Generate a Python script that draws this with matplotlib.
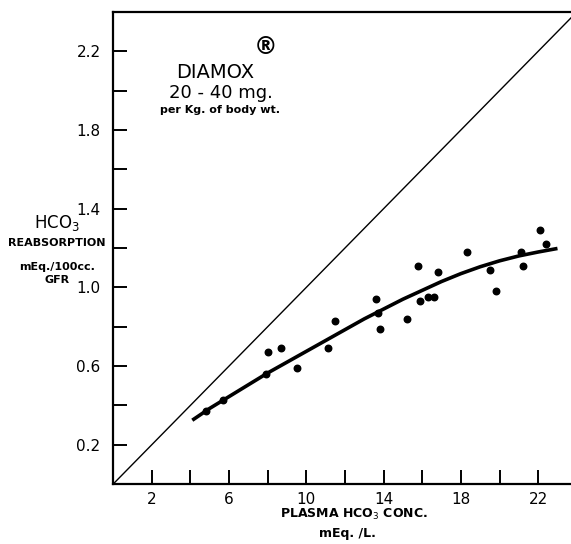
import matplotlib.pyplot as plt

# measured points: plasma HCO3 (mEq/L) vs HCO3 reabsorption (mEq/100cc GFR)
plasma = [4.8, 5.7, 7.9, 8.0, 8.7, 9.5, 11.1, 11.5, 13.6, 13.7, 13.8, 15.2,
          15.8, 15.9, 16.3, 16.6, 16.8, 18.3, 19.5, 19.8, 21.1, 21.2, 22.1, 22.4]
reabs = [0.37, 0.43, 0.56, 0.67, 0.69, 0.59, 0.69, 0.83, 0.94, 0.87, 0.79, 0.84,
         1.11, 0.93, 0.95, 0.95, 1.08, 1.18, 1.09, 0.98, 1.18, 1.11, 1.29, 1.22]

# hand-drawn fitted curve
curve_x = [4.1, 5, 6, 7, 8, 9, 10, 11, 12, 13, 14, 15, 16, 17, 18, 19, 20, 21, 22, 23]
curve_y = [0.325, 0.385, 0.445, 0.505, 0.565, 0.62, 0.675, 0.73, 0.785, 0.84,
           0.89, 0.94, 0.985, 1.03, 1.07, 1.105, 1.135, 1.16, 1.18, 1.198]

# line of identity (filtered load)
diag_x = [0, 24]
diag_y = [0, 2.4]

xticks = [2, 4, 6, 8, 10, 12, 14, 16, 18, 20, 22]
xlabels = ['2', '', '6', '', '10', '', '14', '', '18', '', '22']
yticks = [0.2, 0.4, 0.6, 0.8, 1.0, 1.2, 1.4, 1.6, 1.8, 2.0, 2.2]
ylabels = ['0.2', '', '0.6', '', '1.0', '', '1.4', '', '1.8', '', '2.2']


def main():
    fig = plt.figure(figsize=(5.71, 5.44), dpi=100)
    ax = fig.add_axes([0.198, 0.110, 0.802, 0.868])

    ax.plot(diag_x, diag_y, color='black', lw=1.0)
    ax.plot(curve_x, curve_y, color='black', lw=2.6, solid_capstyle='butt')
    ax.scatter(plasma, reabs, s=22, color='black', zorder=3)

    ax.set_xlim(0, 23.7)
    ax.set_ylim(0, 2.4)
    ax.spines['right'].set_visible(False)
    for s in ['left', 'bottom', 'top']:
        ax.spines[s].set_linewidth(1.6)

    ax.set_xticks(xticks)
    ax.set_xticklabels(xlabels, fontsize=11)
    ax.set_yticks(yticks)
    ax.set_yticklabels(ylabels, fontsize=11)
    ax.tick_params(direction='in', length=10, width=1.4, pad=9)
    ax.tick_params(axis='x', pad=6)

    fig.text(0.62, 0.054, 'PLASMA HCO$_3$ CONC.', fontsize=9, fontweight='bold',
             ha='center', va='center')
    fig.text(0.608, 0.020, 'mEq. /L.', fontsize=9, fontweight='bold',
             ha='center', va='center')

    fig.text(0.10, 0.590, 'HCO$_3$', fontsize=12, ha='center', va='center')
    fig.text(0.10, 0.553, 'REABSORPTION', fontsize=8, fontweight='bold',
             ha='center', va='center')
    fig.text(0.10, 0.509, 'mEq./100cc.', fontsize=8, fontweight='bold',
             ha='center', va='center')
    fig.text(0.10, 0.485, 'GFR', fontsize=8, fontweight='bold',
             ha='center', va='center')

    ax.text(5.3, 2.09, 'DIAMOX', fontsize=14, ha='center', va='center')
    ax.text(7.9, 2.22, '®', fontsize=17, fontweight='bold', ha='center', va='center')
    ax.text(5.6, 1.99, '20 - 40 mg.', fontsize=13, ha='center', va='center')
    ax.text(5.55, 1.90, 'per Kg. of body wt.', fontsize=8, fontweight='bold',
            ha='center', va='center')

    fig.savefig('out.png', dpi=100)


if __name__ == "__main__":
    main()
